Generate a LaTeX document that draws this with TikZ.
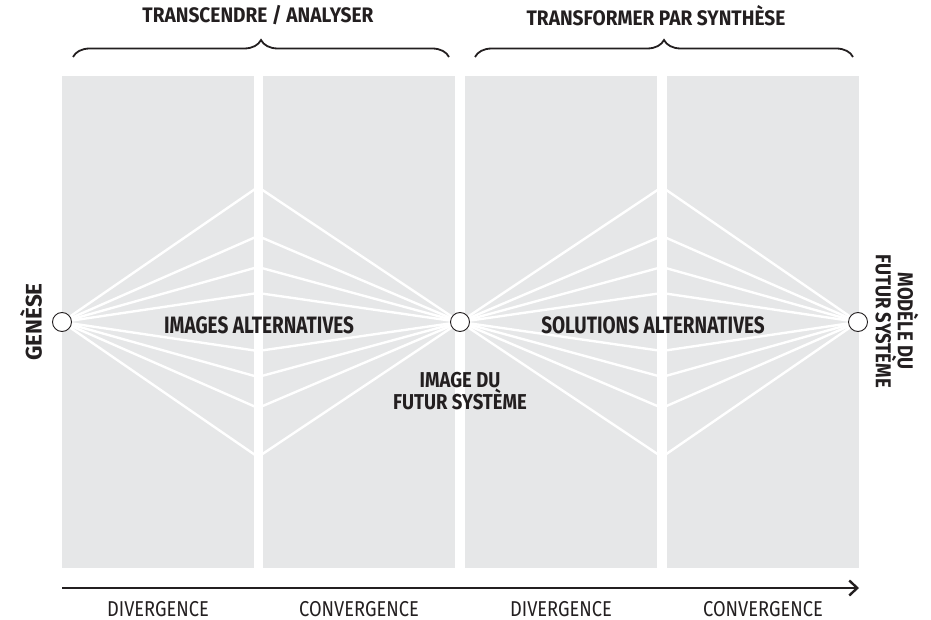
\documentclass[tikz,border=0pt]{standalone}
\usepackage{fontspec}
\setmainfont{Fira Sans}
\newfontfamily\titlefont{Fira Sans}[FakeStretch=0.91]
\newfontfamily\panelfont{Fira Sans}[FakeStretch=0.80]
\newfontfamily\nodefont{Fira Sans}[FakeStretch=0.86]
\newfontfamily\genfont{Fira Sans}[FakeStretch=1.0]
\newfontfamily\phasefont{Fira Sans}[FakeStretch=0.85]
\usetikzlibrary{arrows.meta,decorations.pathreplacing,backgrounds}
\definecolor{panelgray}{HTML}{E6E7E8}
\definecolor{ink}{HTML}{231F20}

\begin{document}
\begin{tikzpicture}[x=1pt,y=-1pt,
        panel/.style={fill=panelgray},
        ray/.style={white,line width=2.4pt},
        dot/.style={circle,draw=ink,fill=white,line width=0.9pt,minimum size=19pt,inner sep=0pt},
        title/.style={text=ink,font=\titlefont\bfseries\fontsize{21}{24}\selectfont},
        lbl/.style={text=ink,align=center,inner sep=0pt},
        phase/.style={text=ink,inner sep=0pt,anchor=base,font=\phasefont\fontsize{21.5}{24}\selectfont},
        curly/.style={draw=ink,line width=1.8pt,decorate,decoration={brace,amplitude=17pt}},
        axis/.style={draw=ink,line width=2.8pt,-{Straight Barb[length=8pt,width=15pt,line width=2.4pt]}}]

            \useasboundingbox (0,0) rectangle (931,620);

            % nodes:
            \node[dot] (genese) at (62,322) {};
            \node[dot] (image) at (460,322) {};
            \node[dot] (modele) at (858,322) {};

            \foreach \o in {-135,-86,-55,-29,29,55,86,135} {
                \coordinate (ia\o) at (258,322+\o);
                \coordinate (sa\o) at (662,322+\o);
            }

            \begin{pgfonlayer}{background}
                %panels
                \foreach \xa/\xb in {62/254,263/455,465/657,667/859}
                    \fill[panel] (\xa,76) rectangle (\xb,568);

                %rays
                \foreach \o in {-135,-86,-55,-29,29,55,86,135} {
                    \draw[ray] (genese.center) -- (ia\o) -- (image.center);
                    \draw[ray] (image.center) -- (sa\o) -- (modele.center);
                }
            \end{pgfonlayer}

            %braces
            \draw[curly] (73,57) -- (449,57);
            \draw[curly] (475,57) -- (853,57);
            \node[title] (transcendre) at (258,15.5) {TRANSCENDRE / ANALYSER};
            \node[title] (transformer) at (656,15.5) {TRANSFORMER PAR SYNTHÈSE};

            %labels
            \node[lbl,font=\panelfont\bfseries\fontsize{23.7}{26}\selectfont] (imgalt) at (259,325) {IMAGES ALTERNATIVES};
            \node[lbl,font=\panelfont\bfseries\fontsize{23.7}{26}\selectfont] (solalt) at (653,325) {SOLUTIONS ALTERNATIVES};
            \node[lbl,font=\nodefont\bfseries\fontsize{21.5}{22.5}\selectfont] (futur) at (460,391) {IMAGE DU\\FUTUR SYSTÈME};
            \node[lbl,rotate=90,font=\genfont\bfseries\fontsize{22.5}{24}\selectfont] (genlbl) at (31,322) {GENÈSE};
            \node[lbl,rotate=-90,font=\nodefont\bfseries\fontsize{21.5}{16}\selectfont] (modlbl) at (897,321) {MODÈLE DU\\FUTUR SYSTÈME};

            %time axis
            \coordinate (t0) at (62,588);
            \coordinate (t1) at (859,588);
            \draw[axis] (t0) -- (t1);
            \foreach \x/\t [count=\i] in {158/DIVERGENCE,359/CONVERGENCE,561/DIVERGENCE,763/CONVERGENCE}
                \node[phase] (phase\i) at (\x,616) {\t};
        \end{tikzpicture}
\end{document}
